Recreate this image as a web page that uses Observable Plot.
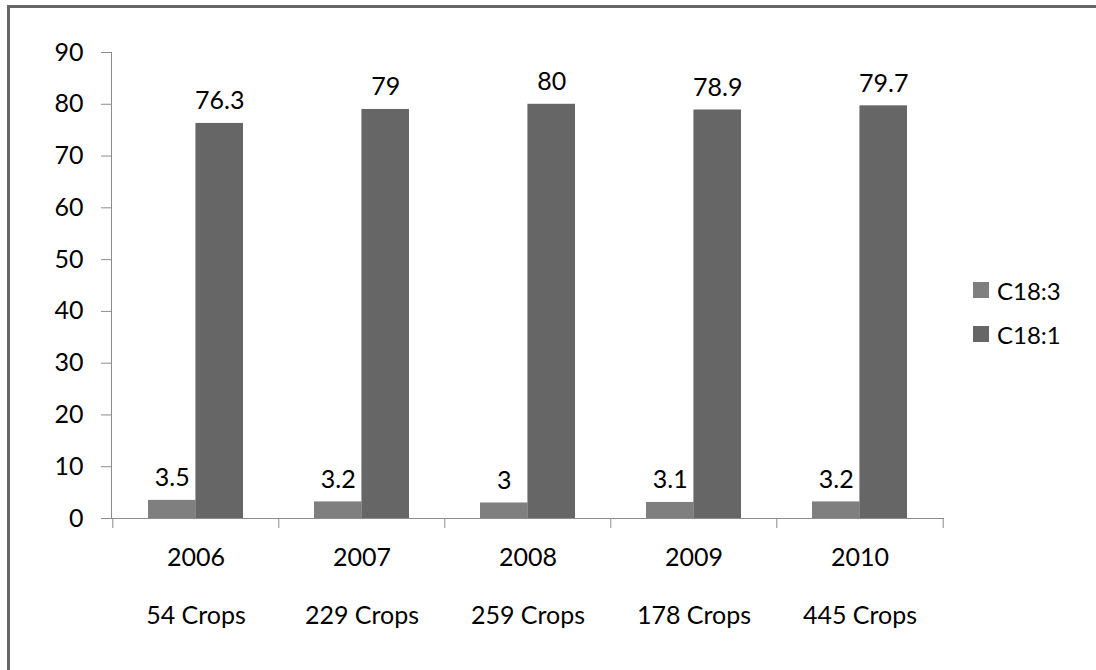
<!DOCTYPE html>
<html>
<head>
<meta charset="utf-8">
<script src="https://cdn.jsdelivr.net/npm/d3@7"></script>
<script src="https://cdn.jsdelivr.net/npm/@observablehq/plot@0.6"></script>
<style>
  html, body { margin: 0; padding: 0; background: #fff; }
  #wrap { position: relative; width: 1096px; height: 670px; overflow: hidden; background: #fff; font-family: Lato, "Open Sans", sans-serif; }
  #border { position: absolute; left: 7px; top: 5px; width: 2000px; height: 2000px; border-top: 3px solid #666; border-left: 3px solid #666; box-sizing: border-box; }
  #chart { position: absolute; left: 0; top: 0; }
  #legend { position: absolute; left: 973px; top: 268px; font-size: 24px; color: #000; }
  .item { display: flex; align-items: center; height: 44px; }
  .sw { width: 16px; height: 16px; margin-right: 8px; }
</style>
</head>
<body>
<div id="wrap">
  <div id="border"></div>
  <div id="chart"></div>
  <div id="legend"></div>
</div>
<script>
const years = ["2006", "2007", "2008", "2009", "2010"];
const crops = ["54 Crops", "229 Crops", "259 Crops", "178 Crops", "445 Crops"];
const seriesNames = ["C18:3", "C18:1"];
const c183 = [3.5, 3.2, 3, 3.1, 3.2];
const c181 = [76.3, 79, 80, 78.9, 79.7];
const yTicks = [0, 10, 20, 30, 40, 50, 60, 70, 80, 90];
const colors = ["#7f7f7f", "#666666"];

const W = 1096, H = 670;
const mL = 111, mR = 153, mT = 52, mB = 152;
const step = (W - mL - mR) / years.length;
const bandInner = 0.43;
const half = step * (1 - bandInner) / 2;

const rows = years.map((y, i) => ({year: y, crops: crops[i], a: c183[i], b: c181[i]}));

const plot = Plot.plot({
  width: W,
  height: H,
  marginLeft: mL,
  marginRight: mR,
  marginTop: mT,
  marginBottom: mB,
  style: {fontFamily: "Lato, 'Open Sans', sans-serif", fontSize: "25px", color: "#000", background: "transparent"},
  x: {domain: years, paddingInner: bandInner, paddingOuter: bandInner / 2, axis: null},
  y: {domain: [0, 90], axis: null},
  marks: [
    Plot.barY(rows, {x: "year", y: "a", fill: colors[0], insetRight: half}),
    Plot.barY(rows, {x: "year", y: "b", fill: colors[1], insetLeft: half}),
    Plot.frame({anchor: "left", stroke: "#8c8c8c"}),
    Plot.frame({anchor: "bottom", stroke: "#8c8c8c"}),
    Plot.axisY({ticks: yTicks, tickSize: 10, tickPadding: 18, stroke: "#8c8c8c", fill: "#000", tickFormat: d => String(d), label: null}),
    Plot.ruleX(rows, {x: "year", y1: 0, y2: 0, insetBottom: -10, dx: -step / 2, stroke: "#8c8c8c"}),
    Plot.ruleX(rows.slice(-1), {x: "year", y1: 0, y2: 0, insetBottom: -10, dx: step / 2, stroke: "#8c8c8c"}),
    Plot.text(rows, {x: "year", text: "year", frameAnchor: "bottom", dy: 47, fill: "#000"}),
    Plot.text(rows, {x: "year", text: "crops", frameAnchor: "bottom", dy: 105, fill: "#000"}),
    Plot.text(rows, {x: "year", y: "a", text: d => String(d.a), dy: -22, dx: -half / 2, fill: "#000"}),
    Plot.text(rows, {x: "year", y: "b", text: d => String(d.b), dy: -22, dx: half / 2, fill: "#000"})
  ]
});
document.getElementById("chart").appendChild(plot);

const legend = document.getElementById("legend");
seriesNames.forEach((name, i) => {
  const item = document.createElement("div");
  item.className = "item";
  const sw = document.createElement("div");
  sw.className = "sw";
  sw.style.background = colors[i];
  const t = document.createElement("span");
  t.textContent = name;
  item.appendChild(sw);
  item.appendChild(t);
  legend.appendChild(item);
});
</script>
</body>
</html>
